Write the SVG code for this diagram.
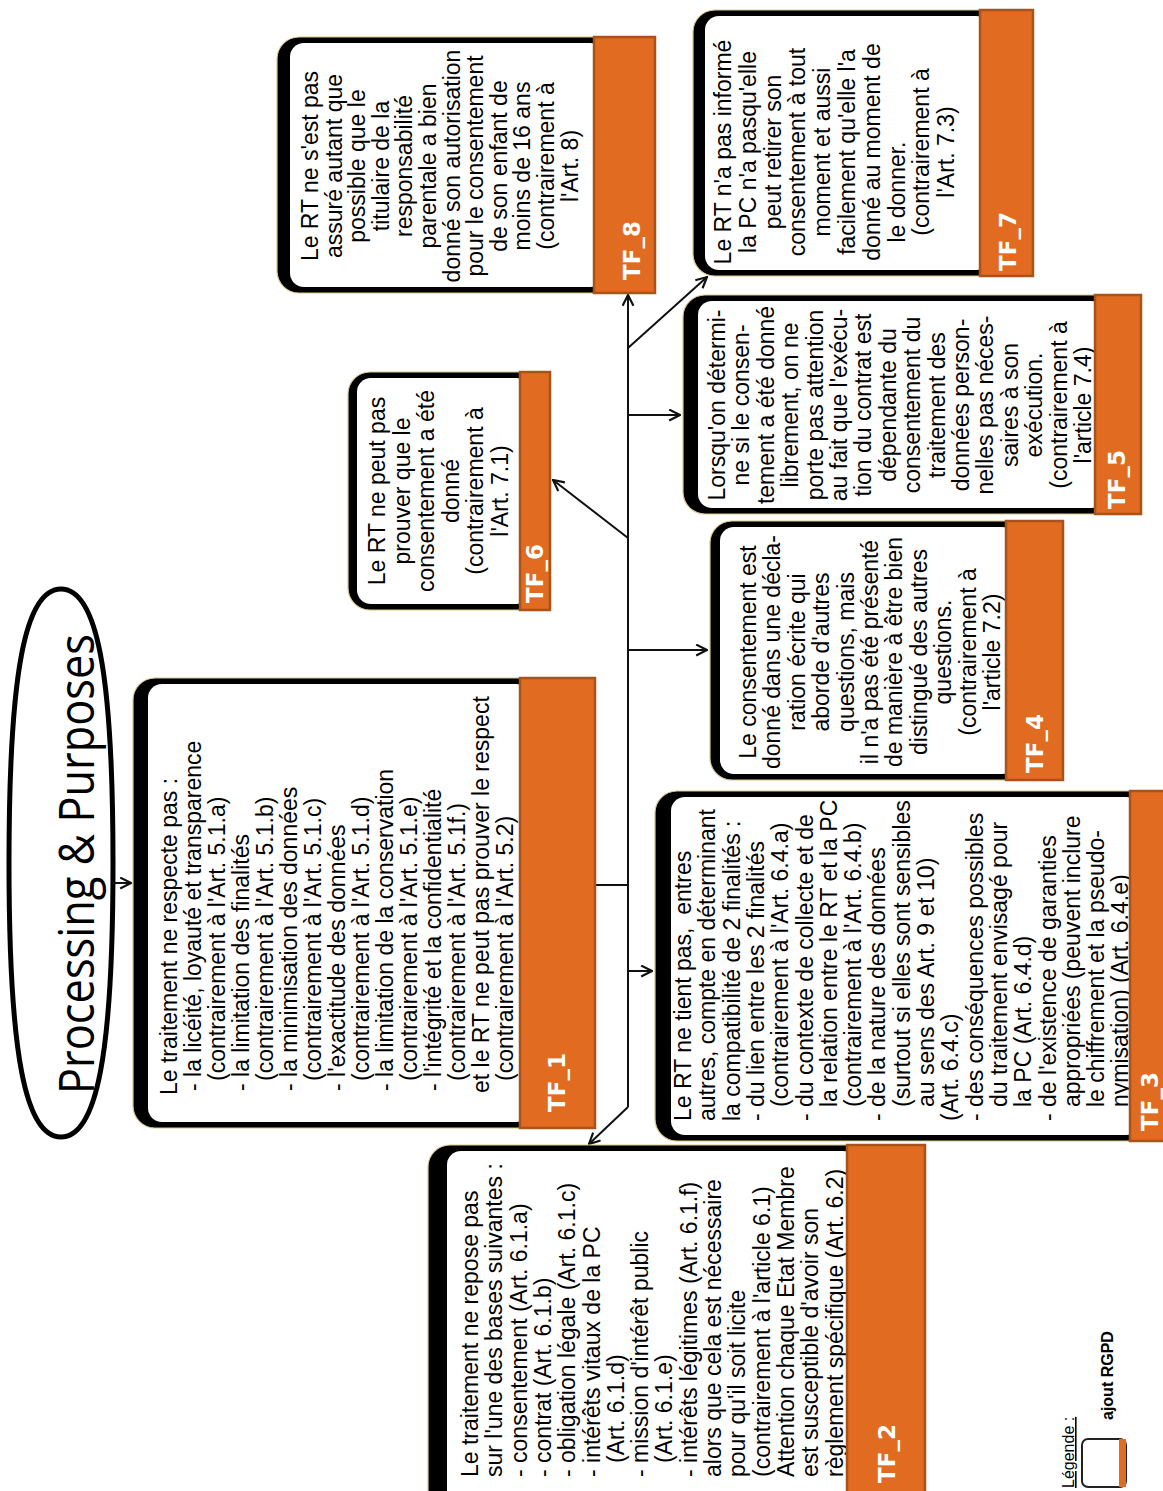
<svg xmlns="http://www.w3.org/2000/svg" width="1163" height="1491" viewBox="0 0 1163 1491">
  <style>
    .shade { fill: #000; stroke: #d8c98e; stroke-width: 1.2; }
    .face { fill: #fff; }
    .tab { fill: #e06b21; stroke: #a9531b; stroke-width: 2.5; }
    .tag { font-family: "DejaVu Sans", "Liberation Sans", sans-serif; font-weight: bold; font-size: 23px; fill: #fff; }
    .t { font-family: "Liberation Sans", Arial, sans-serif; font-size: 23px; fill: #000; }
    .c { font-family: "Liberation Sans", Arial, sans-serif; font-size: 23px; fill: #000; text-anchor: middle; }
    .link { fill: none; stroke: #111; stroke-width: 2; }
    .arrow { marker-end: url(#head); }
  </style>
  <defs>
    <marker id="head" viewBox="0 0 12 12" refX="11" refY="6" markerWidth="13" markerHeight="13" markerUnits="userSpaceOnUse" orient="auto">
      <path d="M1,1 L11,6 L1,11" fill="none" stroke="#111" stroke-width="2"/>
    </marker>
    <clipPath id="clip-tf3">
      <rect x="356" y="660" width="338" height="520"/>
    </clipPath>
  </defs>

  <rect width="1163" height="1491" fill="#fff"/>

  <!-- page is laid out landscape and turned a quarter turn counter-clockwise -->
  <g transform="translate(0,1491) rotate(-90)">

    <g id="title">
      <!-- slightly squared oval around the heading -->
      <path d="M902,61 C902,97 818,113 628,113 C438,113 354,97 354,61 C354,25 438,9 628,9 C818,9 902,25 902,61 Z" fill="#fff" stroke="#000" stroke-width="5"/>
      <text x="627" y="94" font-family="'Open Sans', 'Liberation Sans', sans-serif" font-size="49" text-anchor="middle" textLength="460" lengthAdjust="spacingAndGlyphs">Processing &amp; Purposes</text>
    </g>

    <g id="connectors">
      <path class="link arrow" d="M608,113 L608,131"/>
      <path class="link" d="M606,595 L606,628"/>
      <path class="link arrow" d="M384,628 L1196,628"/>
      <path class="link arrow" d="M384,628 L347,589"/>
      <path class="link arrow" d="M520,628 L520,652"/>
      <path class="link arrow" d="M841,628 L841,707"/>
      <path class="link arrow" d="M953,628 L1011,553"/>
      <path class="link arrow" d="M1076,628 L1076,680"/>
      <path class="link arrow" d="M1143,628 L1214,707"/>
    </g>

    <g id="tf1">
      <rect class="shade" x="363" y="133" width="450" height="462" rx="22"/>
      <rect class="face" x="369" y="148" width="438" height="382" rx="14"/>
      <text class="t" x="396" y="177">Le traitement ne respecte pas :</text>
      <text class="t" x="400" y="201">- la licéité, loyauté et transparence</text>
      <text class="t" x="410" y="225">(contrairement à l'Art. 5.1.a)</text>
      <text class="t" x="400" y="249">- la limitation des finalités</text>
      <text class="t" x="410" y="273">(contrairement à l'Art. 5.1.b)</text>
      <text class="t" x="400" y="297">- la minimisation des données</text>
      <text class="t" x="410" y="321">(contrairement à l'Art. 5.1.c)</text>
      <text class="t" x="400" y="345">- l'exactitude des données</text>
      <text class="t" x="410" y="369">(contrairement à l'Art. 5.1.d)</text>
      <text class="t" x="400" y="393">- la limitation de la conservation</text>
      <text class="t" x="410" y="417">(contrairement à l'Art. 5.1.e)</text>
      <text class="t" x="400" y="441">- l'intégrité et la confidentialité</text>
      <text class="t" x="410" y="465">(contrairement à l'Art. 5.1f.)</text>
      <text class="t" x="398" y="489">et le RT ne peut pas prouver le respect</text>
      <text class="t" x="410" y="513">(contrairement à l'Art. 5.2)</text>
      <rect class="tab" x="363" y="520" width="450" height="75"/>
      <text class="tag" x="379" y="565">TF_1</text>
    </g>

    <g id="tf2">
      <rect class="shade" x="-20" y="428" width="366" height="497" rx="22"/>
      <rect class="face" x="-14" y="447" width="354" height="410" rx="14"/>
      <text class="t" x="14" y="478">Le traitement ne repose pas</text>
      <text class="t" x="14" y="502.3">sur l'une des bases suivantes :</text>
      <text class="t" x="14" y="526.6">- consentement (Art. 6.1.a)</text>
      <text class="t" x="14" y="550.9">- contrat (Art. 6.1.b)</text>
      <text class="t" x="14" y="575.2">- obligation légale (Art. 6.1.c)</text>
      <text class="t" x="14" y="599.5">- intérêts vitaux de la PC</text>
      <text class="t" x="28" y="623.8">(Art. 6.1.d)</text>
      <text class="t" x="14" y="648.1">- mission d'intérêt public</text>
      <text class="t" x="28" y="672.4">(Art. 6.1.e)</text>
      <text class="t" x="14" y="696.7">- intérêts légitimes (Art. 6.1.f)</text>
      <text class="t" x="14" y="721">alors que cela est nécessaire</text>
      <text class="t" x="14" y="745.3">pour qu'il soit licite</text>
      <text class="t" x="14" y="769.6">(contrairement à l'article 6.1)</text>
      <text class="t" x="14" y="793.9">Attention chaque Etat Membre</text>
      <text class="t" x="14" y="818.2">est susceptible d'avoir son</text>
      <text class="t" x="14" y="842.5">règlement spécifique (Art. 6.2)</text>
      <rect class="tab" x="-20" y="847" width="366" height="78"/>
      <text class="tag" x="8" y="895">TF_2</text>
    </g>

    <g id="tf3">
      <rect class="shade" x="350" y="655" width="350" height="520" rx="22"/>
      <rect class="face" x="356" y="671" width="338" height="469" rx="14"/>
      <g clip-path="url(#clip-tf3)">
        <text class="t" x="370" y="691" xml:space="preserve">Le RT ne tient pas,  entres</text>
        <text class="t" x="370" y="715.3">autres, compte en déterminant</text>
        <text class="t" x="370" y="739.6">la compatibilité de 2 finalités :</text>
        <text class="t" x="370" y="763.9">- du lien entre les 2 finalités</text>
        <text class="t" x="384" y="788.2">(contrairement à l'Art. 6.4.a)</text>
        <text class="t" x="370" y="812.5">- du contexte de collecte et de</text>
        <text class="t" x="384" y="836.8">la relation entre le RT et la PC</text>
        <text class="t" x="384" y="861.1">(contrairement à l'Art. 6.4.b)</text>
        <text class="t" x="370" y="885.4">- de la nature des données</text>
        <text class="t" x="384" y="909.7">(surtout si elles sont sensibles</text>
        <text class="t" x="384" y="934">au sens des Art. 9 et 10)</text>
        <text class="t" x="370" y="958.3">(Art. 6.4.c)</text>
        <text class="t" x="370" y="982.6">- des conséquences possibles</text>
        <text class="t" x="384" y="1006.9">du traitement envisagé pour</text>
        <text class="t" x="384" y="1031.2">la PC (Art. 6.4.d)</text>
        <text class="t" x="370" y="1055.5">- de l'existence de garanties</text>
        <text class="t" x="384" y="1079.8">appropriées (peuvent inclure</text>
        <text class="t" x="384" y="1104.1">le chiffrement et la pseudo-</text>
        <text class="t" x="384" y="1128.4">nymisation) (Art. 6.4.e)</text>
      </g>
      <rect class="tab" x="350" y="1130" width="350" height="45"/>
      <text class="tag" x="360" y="1158">TF_3</text>
    </g>

    <g id="tf4">
      <rect class="shade" x="711" y="710" width="259" height="353" rx="22"/>
      <rect class="face" x="717" y="720" width="247" height="296" rx="14"/>
      <text class="c" x="839" y="756">Le consentement est</text>
      <text class="c" x="839" y="780.4">donné dans une décla-</text>
      <text class="c" x="839" y="804.8">ration écrite qui</text>
      <text class="c" x="839" y="829.2">aborde d'autres</text>
      <text class="c" x="839" y="853.6">questions, mais</text>
      <text class="c" x="839" y="878">il n'a pas été présenté</text>
      <text class="c" x="839" y="902.4">de manière à être bien</text>
      <text class="c" x="839" y="926.8">distingué des autres</text>
      <text class="c" x="839" y="951.2">questions.</text>
      <text class="c" x="839" y="975.6">(contrairement à</text>
      <text class="c" x="839" y="1000">l'article 7.2)</text>
      <rect class="tab" x="711" y="1006" width="259" height="57"/>
      <text class="tag" x="718" y="1043">TF_4</text>
    </g>

    <g id="tf5">
      <rect class="shade" x="977" y="683" width="219" height="458" rx="22"/>
      <rect class="face" x="983" y="698" width="207" height="407" rx="14"/>
      <text class="c" x="1086" y="725">Lorsqu'on détermi-</text>
      <text class="c" x="1086" y="749.4">ne si le consen-</text>
      <text class="c" x="1086" y="773.8">tement a été donné</text>
      <text class="c" x="1086" y="798.2">librement, on ne</text>
      <text class="c" x="1086" y="822.6">porte pas attention</text>
      <text class="c" x="1086" y="847">au fait que l'exécu-</text>
      <text class="c" x="1086" y="871.4">tion du contrat est</text>
      <text class="c" x="1086" y="895.8">dépendante du</text>
      <text class="c" x="1086" y="920.2">consentement du</text>
      <text class="c" x="1086" y="944.6">traitement des</text>
      <text class="c" x="1086" y="969">données person-</text>
      <text class="c" x="1086" y="993.4">nelles pas néces-</text>
      <text class="c" x="1086" y="1017.8">saires à son</text>
      <text class="c" x="1086" y="1042.2">exécution.</text>
      <text class="c" x="1086" y="1066.6">(contrairement à</text>
      <text class="c" x="1086" y="1091">l'article 7.4)</text>
      <rect class="tab" x="977" y="1095" width="219" height="46"/>
      <text class="tag" x="982" y="1125">TF_5</text>
    </g>

    <g id="tf6">
      <rect class="shade" x="881" y="348" width="238" height="202" rx="22"/>
      <rect class="face" x="887" y="357" width="226" height="173" rx="14"/>
      <text class="c" x="1000" y="385">Le RT ne peut pas</text>
      <text class="c" x="1000" y="409.6">prouver que le</text>
      <text class="c" x="1000" y="434.2">consentement a été</text>
      <text class="c" x="1000" y="458.8">donné</text>
      <text class="c" x="1000" y="483.4">(contrairement à</text>
      <text class="c" x="1000" y="508">l'Art. 7.1)</text>
      <rect class="tab" x="881" y="520" width="238" height="30"/>
      <text class="tag" x="888" y="543">TF_6</text>
    </g>

    <g id="tf7">
      <rect class="shade" x="1215" y="693" width="266" height="340" rx="22"/>
      <rect class="face" x="1221" y="705" width="254" height="285" rx="14"/>
      <text class="c" x="1339" y="731">Le RT n'a pas informé</text>
      <text class="c" x="1339" y="755.8">la PC n'a pasqu'elle</text>
      <text class="c" x="1339" y="780.6">peut retirer son</text>
      <text class="c" x="1339" y="805.4">consentement à tout</text>
      <text class="c" x="1339" y="830.2">moment et aussi</text>
      <text class="c" x="1339" y="855">facilement qu'elle l'a</text>
      <text class="c" x="1339" y="879.8">donné au moment de</text>
      <text class="c" x="1299" y="904.6">le donner.</text>
      <text class="c" x="1339" y="929.4">(contrairement à</text>
      <text class="c" x="1339" y="954.2">l'Art. 7.3)</text>
      <rect class="tab" x="1215" y="980" width="266" height="53"/>
      <text class="tag" x="1220" y="1016">TF_7</text>
    </g>

    <g id="tf8">
      <rect class="shade" x="1198" y="277" width="256" height="378" rx="22"/>
      <rect class="face" x="1204" y="290" width="244" height="314" rx="14"/>
      <text class="c" x="1325" y="318">Le RT ne s'est pas</text>
      <text class="c" x="1325" y="341.6">assuré autant que</text>
      <text class="c" x="1325" y="365.2">possible que le</text>
      <text class="c" x="1325" y="388.8">titulaire de la</text>
      <text class="c" x="1325" y="412.4">responsabilité</text>
      <text class="c" x="1325" y="436">parentale a bien</text>
      <text class="c" x="1325" y="459.6">donné son autorisation</text>
      <text class="c" x="1325" y="483.2">pour le consentement</text>
      <text class="c" x="1325" y="506.8">de son enfant de</text>
      <text class="c" x="1325" y="530.4">moins de 16 ans</text>
      <text class="c" x="1325" y="554">(contrairement à</text>
      <text class="c" x="1325" y="577.6">l'Art. 8)</text>
      <rect class="tab" x="1198" y="594" width="256" height="61"/>
      <text class="tag" x="1211" y="640">TF_8</text>
    </g>

    <g id="legend">
      <text x="3" y="1074" font-family="'Liberation Sans', Arial, sans-serif" font-size="16" text-decoration="underline">Légende :</text>
      <rect x="4" y="1082" width="48" height="44" rx="6" fill="#fff" stroke="#222" stroke-width="2"/>
      <rect x="4" y="1119" width="48" height="7" fill="#e06b21"/>
      <text x="71" y="1113" font-family="'Liberation Sans', Arial, sans-serif" font-size="16" font-weight="bold">ajout RGPD</text>
    </g>
  </g>
</svg>
